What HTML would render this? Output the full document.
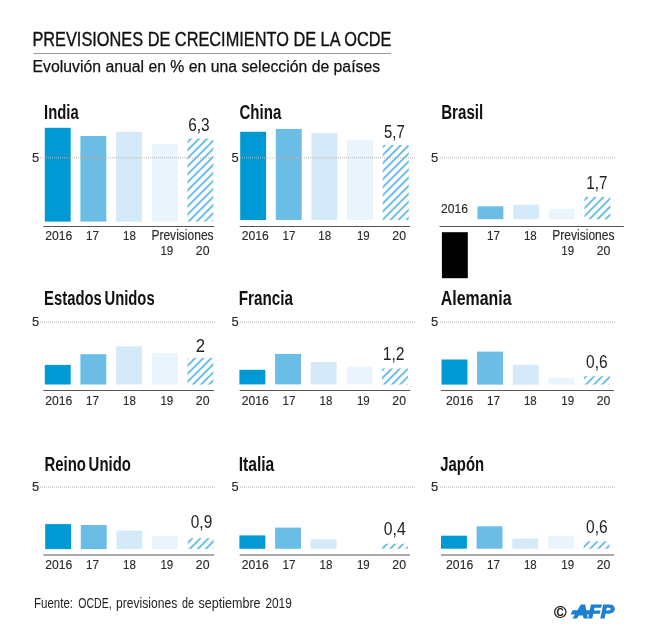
<!DOCTYPE html>
<html lang="es"><head><meta charset="utf-8"><title>Previsiones de crecimiento de la OCDE</title>
<style>
html,body{margin:0;padding:0;background:#fff;}
svg{display:block;}
text{font-family:"Liberation Sans",sans-serif;fill:#1a1a1a;}
.t{font-weight:bold;font-size:19.6px;fill:#111;word-spacing:-2px;}
.y{font-size:13.2px;fill:#2a2a2a;stroke:#2a2a2a;stroke-width:0.15;}
.p{font-size:14px;fill:#2a2a2a;stroke:#2a2a2a;stroke-width:0.15;}
.v{font-size:17.9px;fill:#222;}
.g{stroke:#b5b5b5;stroke-width:1;stroke-dasharray:1 1;}
.b{stroke:#555;stroke-width:1;}
</style></head><body>
<svg width="648" height="633" viewBox="0 0 648 633">
<defs>
<pattern id="h" width="5.75" height="5.75" patternUnits="userSpaceOnUse" patternTransform="rotate(-45)">
<rect x="0" y="0" width="5.75" height="2.3" fill="#6BBDE6"/>
</pattern>
</defs>
<rect width="648" height="633" fill="#fff"/>

<text x="32.4" y="46.2" class="hd" textLength="359" lengthAdjust="spacingAndGlyphs" style="font-size:19.8px;fill:#111;stroke:#111;stroke-width:0.35">PREVISIONES DE CRECIMIENTO DE LA OCDE</text>
<line x1="33.5" y1="53.5" x2="391" y2="53.5" stroke="#9a9a9a" stroke-width="1"/>
<text x="32.6" y="71.7" class="sd" textLength="347.5" lengthAdjust="spacingAndGlyphs" style="font-size:17.3px;fill:#111;stroke:#111;stroke-width:0.25">Evoluvión anual en % en una selección de países</text>
<text x="44.099999999999994" y="119.2" class="t" textLength="34.6" lengthAdjust="spacingAndGlyphs">India</text>
<rect x="44.8" y="127.8" width="25.9" height="93.8" fill="#0099D4"/>
<rect x="80.4" y="136" width="25.9" height="85.6" fill="#6BBDE6"/>
<rect x="116.1" y="131.8" width="25.9" height="89.8" fill="#D4EAF8"/>
<rect x="151.8" y="144" width="25.9" height="77.6" fill="#E9F4FC"/>
<clipPath id="k1"><rect x="187.4" y="138.5" width="25.9" height="83.1"/></clipPath>
<g clip-path="url(#k1)" stroke="#6FBFE7" stroke-width="2.0">
<line x1="105.10" y1="224.60" x2="194.20" y2="135.50"/>
<line x1="113.15" y1="224.60" x2="202.25" y2="135.50"/>
<line x1="121.20" y1="224.60" x2="210.30" y2="135.50"/>
<line x1="129.25" y1="224.60" x2="218.35" y2="135.50"/>
<line x1="137.30" y1="224.60" x2="226.40" y2="135.50"/>
<line x1="145.35" y1="224.60" x2="234.45" y2="135.50"/>
<line x1="153.40" y1="224.60" x2="242.50" y2="135.50"/>
<line x1="161.45" y1="224.60" x2="250.55" y2="135.50"/>
<line x1="169.50" y1="224.60" x2="258.60" y2="135.50"/>
<line x1="177.55" y1="224.60" x2="266.65" y2="135.50"/>
<line x1="185.60" y1="224.60" x2="274.70" y2="135.50"/>
<line x1="193.65" y1="224.60" x2="282.75" y2="135.50"/>
<line x1="201.70" y1="224.60" x2="290.80" y2="135.50"/>
<line x1="209.75" y1="224.60" x2="298.85" y2="135.50"/>
</g>
<line x1="40" y1="157.8" x2="216" y2="157.8" class="g"/>
<text x="31.9" y="161.9" class="y" textLength="7.2" lengthAdjust="spacingAndGlyphs">5</text>
<line x1="43.3" y1="226.5" x2="214.2" y2="226.5" class="b"/>
<text x="58.75" y="240.3" class="y" text-anchor="middle" textLength="27.1" lengthAdjust="spacingAndGlyphs">2016</text>
<text x="92.60000000000001" y="240.3" class="y" text-anchor="middle" textLength="13" lengthAdjust="spacingAndGlyphs">17</text>
<text x="129.45" y="240.3" class="y" text-anchor="middle" textLength="12.8" lengthAdjust="spacingAndGlyphs">18</text>
<text x="151.4" y="240.3" class="p" textLength="62.2" lengthAdjust="spacingAndGlyphs">Previsiones</text>
<text x="166.85" y="255.10000000000002" class="y" text-anchor="middle" textLength="12.8" lengthAdjust="spacingAndGlyphs">19</text>
<text x="202.7" y="255.10000000000002" class="y" text-anchor="middle" textLength="13.7" lengthAdjust="spacingAndGlyphs">20</text>
<text x="188.2" y="130.8" class="v" textLength="21.4" lengthAdjust="spacingAndGlyphs">6,3</text>
<text x="239.5" y="119.2" class="t" textLength="41.8" lengthAdjust="spacingAndGlyphs">China</text>
<rect x="240.2" y="131.8" width="25.9" height="88.2" fill="#0099D4"/>
<rect x="275.8" y="128.9" width="25.9" height="91.1" fill="#6BBDE6"/>
<rect x="311.5" y="133.1" width="25.9" height="86.9" fill="#D4EAF8"/>
<rect x="347.1" y="139.9" width="25.9" height="80.1" fill="#E9F4FC"/>
<clipPath id="k2"><rect x="382.8" y="145.1" width="25.9" height="74.9"/></clipPath>
<g clip-path="url(#k2)" stroke="#6FBFE7" stroke-width="2.0">
<line x1="306.90" y1="223.00" x2="387.80" y2="142.10"/>
<line x1="314.95" y1="223.00" x2="395.85" y2="142.10"/>
<line x1="323.00" y1="223.00" x2="403.90" y2="142.10"/>
<line x1="331.05" y1="223.00" x2="411.95" y2="142.10"/>
<line x1="339.10" y1="223.00" x2="420.00" y2="142.10"/>
<line x1="347.15" y1="223.00" x2="428.05" y2="142.10"/>
<line x1="355.20" y1="223.00" x2="436.10" y2="142.10"/>
<line x1="363.25" y1="223.00" x2="444.15" y2="142.10"/>
<line x1="371.30" y1="223.00" x2="452.20" y2="142.10"/>
<line x1="379.35" y1="223.00" x2="460.25" y2="142.10"/>
<line x1="387.40" y1="223.00" x2="468.30" y2="142.10"/>
<line x1="395.45" y1="223.00" x2="476.35" y2="142.10"/>
<line x1="403.50" y1="223.00" x2="484.40" y2="142.10"/>
</g>
<line x1="240" y1="157.8" x2="416" y2="157.8" class="g"/>
<text x="231.5" y="161.9" class="y" textLength="7.2" lengthAdjust="spacingAndGlyphs">5</text>
<line x1="239.7" y1="226.5" x2="410" y2="226.5" class="b"/>
<text x="255.25" y="240.3" class="y" text-anchor="middle" textLength="27.1" lengthAdjust="spacingAndGlyphs">2016</text>
<text x="289.09999999999997" y="240.3" class="y" text-anchor="middle" textLength="13" lengthAdjust="spacingAndGlyphs">17</text>
<text x="324.65" y="240.3" class="y" text-anchor="middle" textLength="12.8" lengthAdjust="spacingAndGlyphs">18</text>
<text x="363.35" y="240.3" class="y" text-anchor="middle" textLength="12.8" lengthAdjust="spacingAndGlyphs">19</text>
<text x="399.2" y="240.3" class="y" text-anchor="middle" textLength="13.7" lengthAdjust="spacingAndGlyphs">20</text>
<text x="384" y="137.5" class="v" textLength="20.7" lengthAdjust="spacingAndGlyphs">5,7</text>
<text x="441.2" y="119.2" class="t" textLength="42" lengthAdjust="spacingAndGlyphs">Brasil</text>
<rect x="441.9" y="232.2" width="25.9" height="46" fill="#000"/>
<rect x="477.5" y="206.3" width="25.9" height="12.9" fill="#6BBDE6"/>
<rect x="513.2" y="204.7" width="25.9" height="14.5" fill="#D4EAF8"/>
<rect x="548.8" y="208.9" width="25.9" height="10.3" fill="#E9F4FC"/>
<clipPath id="k3"><rect x="584.5" y="196.9" width="25.9" height="22.3"/></clipPath>
<g clip-path="url(#k3)" stroke="#6FBFE7" stroke-width="2.0">
<line x1="562.35" y1="222.20" x2="590.65" y2="193.90"/>
<line x1="570.40" y1="222.20" x2="598.70" y2="193.90"/>
<line x1="578.45" y1="222.20" x2="606.75" y2="193.90"/>
<line x1="586.50" y1="222.20" x2="614.80" y2="193.90"/>
<line x1="594.55" y1="222.20" x2="622.85" y2="193.90"/>
<line x1="602.60" y1="222.20" x2="630.90" y2="193.90"/>
<line x1="610.65" y1="222.20" x2="638.95" y2="193.90"/>
</g>
<line x1="440" y1="157.8" x2="616" y2="157.8" class="g"/>
<text x="431.09999999999997" y="161.9" class="y" textLength="7.2" lengthAdjust="spacingAndGlyphs">5</text>
<line x1="439.6" y1="226.5" x2="623.8" y2="226.5" class="b"/>
<text x="454.5" y="212.9" class="y" text-anchor="middle" textLength="26.9" lengthAdjust="spacingAndGlyphs">2016</text>
<text x="493.49999999999994" y="240.3" class="y" text-anchor="middle" textLength="13" lengthAdjust="spacingAndGlyphs">17</text>
<text x="530.3499999999999" y="240.3" class="y" text-anchor="middle" textLength="12.8" lengthAdjust="spacingAndGlyphs">18</text>
<text x="552.3" y="240.3" class="p" textLength="62.2" lengthAdjust="spacingAndGlyphs">Previsiones</text>
<text x="567.75" y="255.10000000000002" class="y" text-anchor="middle" textLength="12.8" lengthAdjust="spacingAndGlyphs">19</text>
<text x="603.5999999999999" y="255.10000000000002" class="y" text-anchor="middle" textLength="13.7" lengthAdjust="spacingAndGlyphs">20</text>
<text x="586.2" y="189.3" class="v" textLength="21.2" lengthAdjust="spacingAndGlyphs">1,7</text>
<text x="44.099999999999994" y="304.6" class="t" textLength="110.6" lengthAdjust="spacingAndGlyphs">Estados Unidos</text>
<rect x="44.8" y="364.9" width="25.9" height="19.6" fill="#0099D4"/>
<rect x="80.4" y="354.2" width="25.9" height="30.3" fill="#6BBDE6"/>
<rect x="116.1" y="346.4" width="25.9" height="38.1" fill="#D4EAF8"/>
<rect x="151.8" y="353.2" width="25.9" height="31.3" fill="#E9F4FC"/>
<clipPath id="k4"><rect x="187.4" y="358.1" width="25.9" height="26.4"/></clipPath>
<g clip-path="url(#k4)" stroke="#6FBFE7" stroke-width="2.0">
<line x1="157.80" y1="387.50" x2="190.20" y2="355.10"/>
<line x1="165.85" y1="387.50" x2="198.25" y2="355.10"/>
<line x1="173.90" y1="387.50" x2="206.30" y2="355.10"/>
<line x1="181.95" y1="387.50" x2="214.35" y2="355.10"/>
<line x1="190.00" y1="387.50" x2="222.40" y2="355.10"/>
<line x1="198.05" y1="387.50" x2="230.45" y2="355.10"/>
<line x1="206.10" y1="387.50" x2="238.50" y2="355.10"/>
<line x1="214.15" y1="387.50" x2="246.55" y2="355.10"/>
</g>
<line x1="40" y1="322.1" x2="216" y2="322.1" class="g"/>
<text x="31.9" y="326.20000000000005" class="y" textLength="7.2" lengthAdjust="spacingAndGlyphs">5</text>
<line x1="43.3" y1="390.5" x2="214.2" y2="390.5" class="b"/>
<text x="58.75" y="404.8" class="y" text-anchor="middle" textLength="27.1" lengthAdjust="spacingAndGlyphs">2016</text>
<text x="92.60000000000001" y="404.8" class="y" text-anchor="middle" textLength="13" lengthAdjust="spacingAndGlyphs">17</text>
<text x="129.45" y="404.8" class="y" text-anchor="middle" textLength="12.8" lengthAdjust="spacingAndGlyphs">18</text>
<text x="166.85" y="404.8" class="y" text-anchor="middle" textLength="12.8" lengthAdjust="spacingAndGlyphs">19</text>
<text x="202.7" y="404.8" class="y" text-anchor="middle" textLength="13.7" lengthAdjust="spacingAndGlyphs">20</text>
<text x="195.7" y="352" class="v" textLength="9.3" lengthAdjust="spacingAndGlyphs">2</text>
<text x="238.70000000000002" y="304.6" class="t" textLength="54.2" lengthAdjust="spacingAndGlyphs">Francia</text>
<rect x="239.4" y="369.8" width="25.9" height="14.6" fill="#0099D4"/>
<rect x="275.1" y="353.9" width="25.9" height="30.5" fill="#6BBDE6"/>
<rect x="310.7" y="362" width="25.9" height="22.4" fill="#D4EAF8"/>
<rect x="346.4" y="366.8" width="25.9" height="17.6" fill="#E9F4FC"/>
<clipPath id="k5"><rect x="382.0" y="368.5" width="25.9" height="15.9"/></clipPath>
<g clip-path="url(#k5)" stroke="#6FBFE7" stroke-width="2.0">
<line x1="365.05" y1="387.40" x2="386.95" y2="365.50"/>
<line x1="373.10" y1="387.40" x2="395.00" y2="365.50"/>
<line x1="381.15" y1="387.40" x2="403.05" y2="365.50"/>
<line x1="389.20" y1="387.40" x2="411.10" y2="365.50"/>
<line x1="397.25" y1="387.40" x2="419.15" y2="365.50"/>
<line x1="405.30" y1="387.40" x2="427.20" y2="365.50"/>
</g>
<line x1="240" y1="322.1" x2="416" y2="322.1" class="g"/>
<text x="231.5" y="326.20000000000005" class="y" textLength="7.2" lengthAdjust="spacingAndGlyphs">5</text>
<line x1="239.7" y1="390.5" x2="410" y2="390.5" class="b"/>
<text x="255.25" y="404.8" class="y" text-anchor="middle" textLength="27.1" lengthAdjust="spacingAndGlyphs">2016</text>
<text x="289.09999999999997" y="404.8" class="y" text-anchor="middle" textLength="13" lengthAdjust="spacingAndGlyphs">17</text>
<text x="325.95" y="404.8" class="y" text-anchor="middle" textLength="12.8" lengthAdjust="spacingAndGlyphs">18</text>
<text x="363.35" y="404.8" class="y" text-anchor="middle" textLength="12.8" lengthAdjust="spacingAndGlyphs">19</text>
<text x="399.2" y="404.8" class="y" text-anchor="middle" textLength="13.7" lengthAdjust="spacingAndGlyphs">20</text>
<text x="382.8" y="359.7" class="v" textLength="21.8" lengthAdjust="spacingAndGlyphs">1,2</text>
<text x="440.8" y="304.6" class="t" textLength="70.8" lengthAdjust="spacingAndGlyphs">Alemania</text>
<rect x="441.5" y="359.5" width="25.9" height="25.1" fill="#0099D4"/>
<rect x="477.1" y="351.6" width="25.9" height="33.0" fill="#6BBDE6"/>
<rect x="512.8" y="364.9" width="25.9" height="19.7" fill="#D4EAF8"/>
<rect x="548.5" y="377.9" width="25.9" height="6.7" fill="#E9F4FC"/>
<clipPath id="k6"><rect x="584.1" y="376.2" width="25.9" height="8.4"/></clipPath>
<g clip-path="url(#k6)" stroke="#6FBFE7" stroke-width="2.0">
<line x1="574.80" y1="387.60" x2="589.20" y2="373.20"/>
<line x1="582.85" y1="387.60" x2="597.25" y2="373.20"/>
<line x1="590.90" y1="387.60" x2="605.30" y2="373.20"/>
<line x1="598.95" y1="387.60" x2="613.35" y2="373.20"/>
<line x1="607.00" y1="387.60" x2="621.40" y2="373.20"/>
</g>
<line x1="440" y1="322.1" x2="616" y2="322.1" class="g"/>
<text x="431.09999999999997" y="326.20000000000005" class="y" textLength="7.2" lengthAdjust="spacingAndGlyphs">5</text>
<line x1="441" y1="390.5" x2="614" y2="390.5" class="b"/>
<text x="459.65" y="404.8" class="y" text-anchor="middle" textLength="27.1" lengthAdjust="spacingAndGlyphs">2016</text>
<text x="493.49999999999994" y="404.8" class="y" text-anchor="middle" textLength="13" lengthAdjust="spacingAndGlyphs">17</text>
<text x="530.3499999999999" y="404.8" class="y" text-anchor="middle" textLength="12.8" lengthAdjust="spacingAndGlyphs">18</text>
<text x="567.75" y="404.8" class="y" text-anchor="middle" textLength="12.8" lengthAdjust="spacingAndGlyphs">19</text>
<text x="603.5999999999999" y="404.8" class="y" text-anchor="middle" textLength="13.7" lengthAdjust="spacingAndGlyphs">20</text>
<text x="586" y="367.7" class="v" textLength="21.6" lengthAdjust="spacingAndGlyphs">0,6</text>
<text x="44.5" y="471.2" class="t" textLength="86.4" lengthAdjust="spacingAndGlyphs">Reino Unido</text>
<rect x="45.2" y="524.1" width="25.9" height="25.0" fill="#0099D4"/>
<rect x="80.8" y="525" width="25.9" height="24.1" fill="#6BBDE6"/>
<rect x="116.5" y="530.5" width="25.9" height="18.6" fill="#D4EAF8"/>
<rect x="152.1" y="536.1" width="25.9" height="13.0" fill="#E9F4FC"/>
<clipPath id="k7"><rect x="187.8" y="538.3" width="25.9" height="10.8"/></clipPath>
<g clip-path="url(#k7)" stroke="#6FBFE7" stroke-width="2.0">
<line x1="170.45" y1="552.10" x2="187.25" y2="535.30"/>
<line x1="178.50" y1="552.10" x2="195.30" y2="535.30"/>
<line x1="186.55" y1="552.10" x2="203.35" y2="535.30"/>
<line x1="194.60" y1="552.10" x2="211.40" y2="535.30"/>
<line x1="202.65" y1="552.10" x2="219.45" y2="535.30"/>
<line x1="210.70" y1="552.10" x2="227.50" y2="535.30"/>
</g>
<line x1="40" y1="487.1" x2="216" y2="487.1" class="g"/>
<text x="31.9" y="491.20000000000005" class="y" textLength="7.2" lengthAdjust="spacingAndGlyphs">5</text>
<line x1="43.3" y1="555" x2="214.2" y2="555" class="b"/>
<text x="58.75" y="569.4" class="y" text-anchor="middle" textLength="27.1" lengthAdjust="spacingAndGlyphs">2016</text>
<text x="92.60000000000001" y="569.4" class="y" text-anchor="middle" textLength="13" lengthAdjust="spacingAndGlyphs">17</text>
<text x="129.45" y="569.4" class="y" text-anchor="middle" textLength="12.8" lengthAdjust="spacingAndGlyphs">18</text>
<text x="166.85" y="569.4" class="y" text-anchor="middle" textLength="12.8" lengthAdjust="spacingAndGlyphs">19</text>
<text x="202.7" y="569.4" class="y" text-anchor="middle" textLength="13.7" lengthAdjust="spacingAndGlyphs">20</text>
<text x="190.8" y="528.3" class="v" textLength="21.4" lengthAdjust="spacingAndGlyphs">0,9</text>
<text x="238.70000000000002" y="471.2" class="t" textLength="35.6" lengthAdjust="spacingAndGlyphs">Italia</text>
<rect x="239.4" y="535.4" width="25.9" height="13.4" fill="#0099D4"/>
<rect x="275.1" y="527.6" width="25.9" height="21.2" fill="#6BBDE6"/>
<rect x="310.7" y="539.3" width="25.9" height="9.5" fill="#D4EAF8"/>
<clipPath id="k8"><rect x="382.0" y="543.8" width="25.9" height="5.0"/></clipPath>
<g clip-path="url(#k8)" stroke="#6FBFE7" stroke-width="2.0">
<line x1="371.10" y1="551.80" x2="382.10" y2="540.80"/>
<line x1="379.15" y1="551.80" x2="390.15" y2="540.80"/>
<line x1="387.20" y1="551.80" x2="398.20" y2="540.80"/>
<line x1="395.25" y1="551.80" x2="406.25" y2="540.80"/>
<line x1="403.30" y1="551.80" x2="414.30" y2="540.80"/>
</g>
<line x1="240" y1="487.1" x2="416" y2="487.1" class="g"/>
<text x="231.5" y="491.20000000000005" class="y" textLength="7.2" lengthAdjust="spacingAndGlyphs">5</text>
<line x1="239.7" y1="555" x2="410" y2="555" class="b"/>
<text x="255.25" y="569.4" class="y" text-anchor="middle" textLength="27.1" lengthAdjust="spacingAndGlyphs">2016</text>
<text x="289.09999999999997" y="569.4" class="y" text-anchor="middle" textLength="13" lengthAdjust="spacingAndGlyphs">17</text>
<text x="325.95" y="569.4" class="y" text-anchor="middle" textLength="12.8" lengthAdjust="spacingAndGlyphs">18</text>
<text x="363.35" y="569.4" class="y" text-anchor="middle" textLength="12.8" lengthAdjust="spacingAndGlyphs">19</text>
<text x="399.2" y="569.4" class="y" text-anchor="middle" textLength="13.7" lengthAdjust="spacingAndGlyphs">20</text>
<text x="383.8" y="535.3" class="v" textLength="21.9" lengthAdjust="spacingAndGlyphs">0,4</text>
<text x="440.3" y="471.2" class="t" textLength="43.8" lengthAdjust="spacingAndGlyphs">Japón</text>
<rect x="441.0" y="535.7" width="25.9" height="13.0" fill="#0099D4"/>
<rect x="476.6" y="526.3" width="25.9" height="22.4" fill="#6BBDE6"/>
<rect x="512.3" y="538.6" width="25.9" height="10.1" fill="#D4EAF8"/>
<rect x="548.0" y="536.1" width="25.9" height="12.6" fill="#E9F4FC"/>
<clipPath id="k9"><rect x="583.6" y="541.2" width="25.9" height="7.5"/></clipPath>
<g clip-path="url(#k9)" stroke="#6FBFE7" stroke-width="2.0">
<line x1="571.05" y1="551.70" x2="584.55" y2="538.20"/>
<line x1="579.10" y1="551.70" x2="592.60" y2="538.20"/>
<line x1="587.15" y1="551.70" x2="600.65" y2="538.20"/>
<line x1="595.20" y1="551.70" x2="608.70" y2="538.20"/>
<line x1="603.25" y1="551.70" x2="616.75" y2="538.20"/>
</g>
<line x1="440" y1="487.1" x2="616" y2="487.1" class="g"/>
<text x="431.09999999999997" y="491.20000000000005" class="y" textLength="7.2" lengthAdjust="spacingAndGlyphs">5</text>
<line x1="441" y1="555" x2="614" y2="555" class="b"/>
<text x="459.65" y="569.4" class="y" text-anchor="middle" textLength="27.1" lengthAdjust="spacingAndGlyphs">2016</text>
<text x="493.49999999999994" y="569.4" class="y" text-anchor="middle" textLength="13" lengthAdjust="spacingAndGlyphs">17</text>
<text x="530.3499999999999" y="569.4" class="y" text-anchor="middle" textLength="12.8" lengthAdjust="spacingAndGlyphs">18</text>
<text x="567.75" y="569.4" class="y" text-anchor="middle" textLength="12.8" lengthAdjust="spacingAndGlyphs">19</text>
<text x="603.5999999999999" y="569.4" class="y" text-anchor="middle" textLength="13.7" lengthAdjust="spacingAndGlyphs">20</text>
<text x="586" y="532.7" class="v" textLength="21.6" lengthAdjust="spacingAndGlyphs">0,6</text>
<text x="34.0" y="608.2" class="f" textLength="39.0" lengthAdjust="spacingAndGlyphs" style="font-size:14.6px;fill:#222">Fuente:</text>
<text x="78.2" y="608.2" class="f" textLength="33.4" lengthAdjust="spacingAndGlyphs" style="font-size:14.6px;fill:#222">OCDE,</text>
<text x="116.0" y="608.2" class="f" textLength="61.2" lengthAdjust="spacingAndGlyphs" style="font-size:14.6px;fill:#222">previsiones</text>
<text x="182.0" y="608.2" class="f" textLength="12.0" lengthAdjust="spacingAndGlyphs" style="font-size:14.6px;fill:#222">de</text>
<text x="198.6" y="608.2" class="f" textLength="62.0" lengthAdjust="spacingAndGlyphs" style="font-size:14.6px;fill:#222">septiembre</text>
<text x="265.4" y="608.2" class="f" textLength="26.4" lengthAdjust="spacingAndGlyphs" style="font-size:14.6px;fill:#222">2019</text>
<text x="560.2" y="618.4" text-anchor="middle" style="font-size:17px;fill:#111;stroke:#111;stroke-width:0.35">©</text>
<g fill="#1E7FD0"><polygon points="572.6,610.2 590,610.2 590,614.4 570.6,614.4"/><text x="574" y="618" style="font-weight:bold;font-style:italic;font-size:17.8px;fill:#1E7FD0;stroke:#1E7FD0;stroke-width:1.2" textLength="40" lengthAdjust="spacingAndGlyphs">AFP</text></g>
</svg></body></html>
